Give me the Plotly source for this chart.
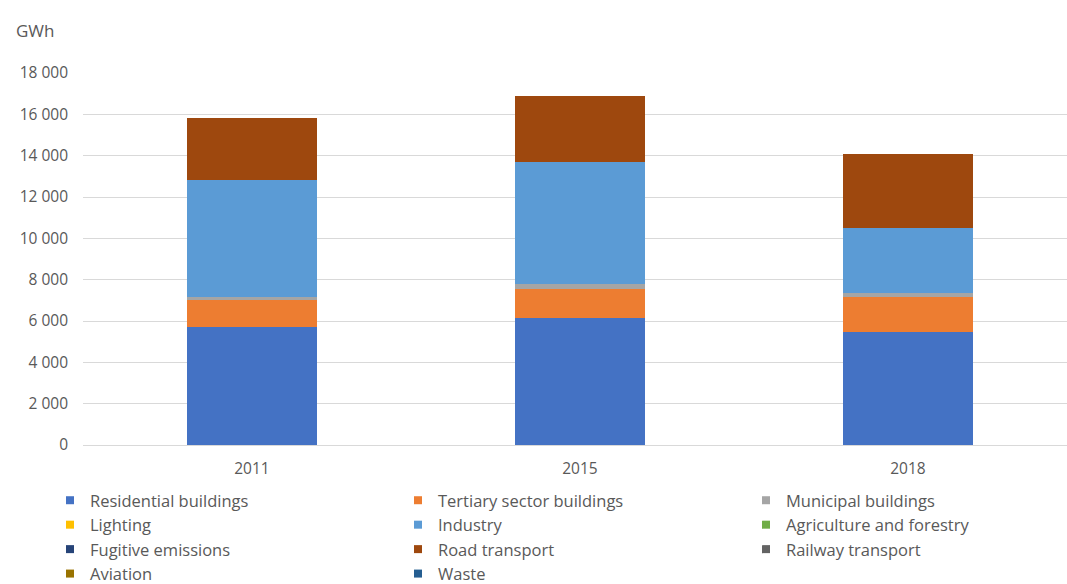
import plotly.graph_objects as go

# Final energy consumption by sector, GWh
years = ["2011", "2015", "2018"]

residential = [5720, 6150, 5470]
tertiary = [1300, 1400, 1700]
municipal = [150, 250, 190]
lighting = [0, 0, 0]
industry = [5670, 5910, 3150]
agriculture = [0, 0, 0]
fugitive = [0, 0, 0]
road = [3000, 3190, 3590]
railway = [0, 0, 0]
aviation = [0, 0, 0]
waste = [0, 0, 0]

# (name, values, colour, legend column)
sectors = [
    ("Residential buildings", residential, "#4472C4", "legend"),
    ("Tertiary sector buildings", tertiary, "#ED7D31", "legend2"),
    ("Municipal buildings", municipal, "#A5A5A5", "legend3"),
    ("Lighting", lighting, "#FFC000", "legend"),
    ("Industry", industry, "#5B9BD5", "legend2"),
    ("Agriculture and forestry", agriculture, "#70AD47", "legend3"),
    ("Fugitive emissions", fugitive, "#264478", "legend"),
    ("Road transport", road, "#9E480E", "legend2"),
    ("Railway transport", railway, "#636363", "legend3"),
    ("Aviation", aviation, "#997300", "legend"),
    ("Waste", waste, "#255E91", "legend2"),
]

y_ticks = [0, 2000, 4000, 6000, 8000, 10000, 12000, 14000, 16000, 18000]

FONT = "Open Sans"
GREY = "#595959"

fig = go.Figure()

for name, values, color, _ in sectors:
    fig.add_trace(go.Bar(
        x=years, y=values, name=name,
        marker=dict(color=color, line=dict(width=0)),
        width=0.396, showlegend=False,
    ))

# small square legend keys, laid out in three columns
for name, values, color, column in sectors:
    fig.add_trace(go.Scatter(
        x=[None], y=[None], mode="markers", name=name, legend=column,
        marker=dict(symbol="square", size=8, color=color),
    ))

W, H = 1067, 584
L, R, T, B = 83, 0, 73, 139
pw, ph = W - L - R, H - T - B

legend_top = (H - B - 483) / ph
column_left = [50, 398, 746]


def legend_column(left):
    return dict(
        orientation="v", xref="paper", yref="paper",
        x=(left - L) / pw, xanchor="left",
        y=legend_top, yanchor="top",
        font=dict(size=16.5, color=GREY, family=FONT),
        itemwidth=30, traceorder="normal",
        bgcolor="rgba(0,0,0,0)",
    )


fig.update_layout(
    width=W, height=H,
    margin=dict(l=L, r=R, t=T, b=B, pad=0, autoexpand=False),
    barmode="stack",
    plot_bgcolor="white", paper_bgcolor="white",
    separators=". ",
    font=dict(family=FONT, color=GREY, size=15),
    xaxis=dict(
        type="category", range=[-0.515, 2.485],
        showgrid=False, showline=True, linecolor="#D9D9D9", linewidth=1,
        ticks="", tickfont=dict(size=15.5, color=GREY), ticklabelstandoff=9,
        fixedrange=True,
    ),
    yaxis=dict(
        range=[0, 18000], tickvals=y_ticks, tickformat=",d",
        showgrid=True, gridcolor="#D9D9D9", gridwidth=1,
        zeroline=False, showline=False, ticks="",
        tickfont=dict(size=15.5, color=GREY), ticklabelstandoff=14,
    ),
    legend=legend_column(column_left[0]),
    legend2=legend_column(column_left[1]),
    legend3=legend_column(column_left[2]),
    annotations=[dict(
        text="GWh", xref="paper", yref="paper",
        x=(14 - L) / pw, y=(H - B - 30) / ph,
        xanchor="left", yanchor="middle", showarrow=False,
        font=dict(size=17, color=GREY, family=FONT),
    )],
)

fig.write_html("out.html")
